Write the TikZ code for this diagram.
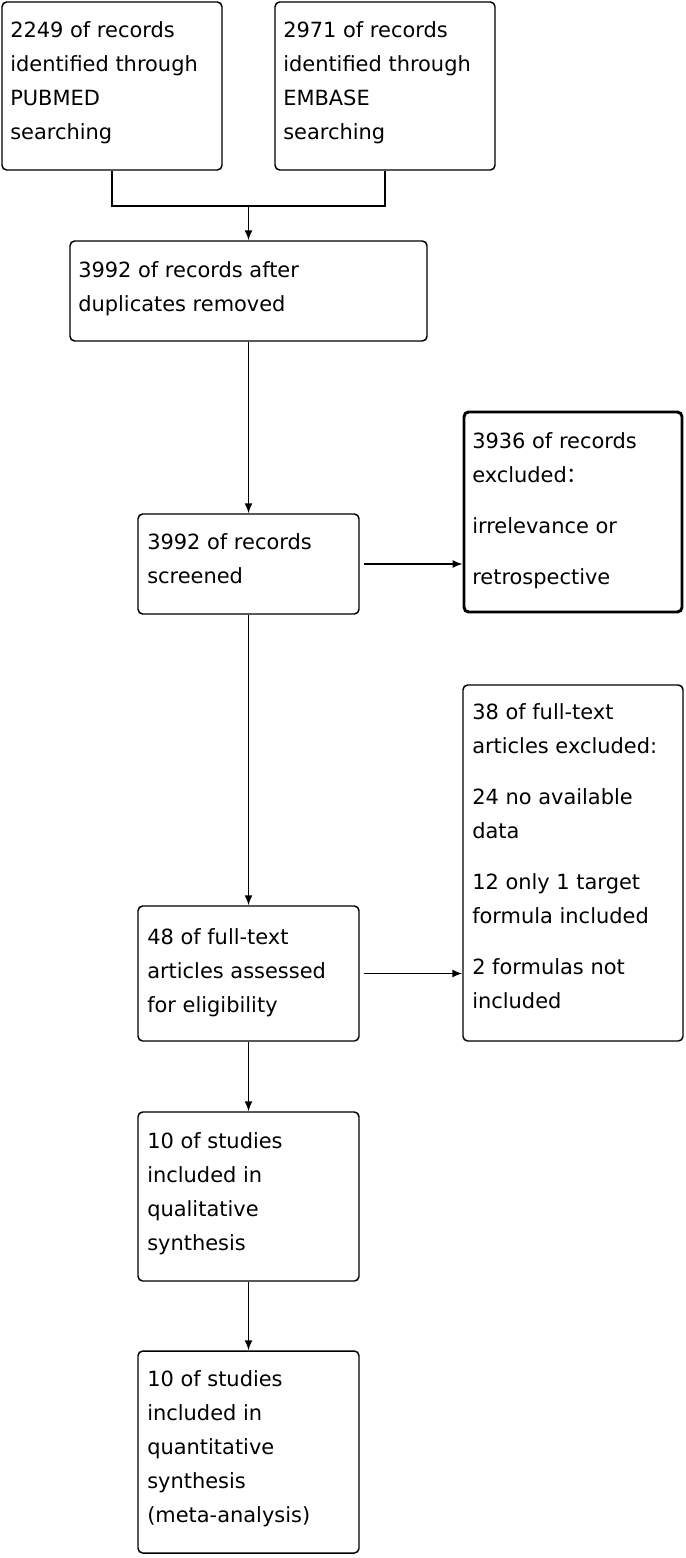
\documentclass[tikz,border=0pt]{standalone}
\usepackage{fontspec}
\setmainfont{DejaVu Sans}
\newfontfamily\cjk{Noto Sans CJK SC}
\usetikzlibrary{arrows.meta,fit}
\begin{document}
\begin{tikzpicture}[x=0.75pt,y=-0.75pt,
  box/.style={draw, line width=1.1pt, rounded corners=3.5pt, inner sep=0pt},
  thickbox/.style={box, line width=2.2pt},
  txt/.style={anchor=north west, inner sep=0pt, align=left, font=\fontsize{15.7pt}{25.5pt}\selectfont},
  conn/.style={line width=1.1pt},
  arr/.style={conn, -{Latex[length=7.5pt,width=6pt]}}]
\useasboundingbox (0,0) rectangle (685,1558);
% boxes
\node[box, fit={(2,2)(222,170)}] (pubmed) {};
\node[box, fit={(275,2)(495,170)}] (embase) {};
\node[box, fit={(70,241)(427,341)}] (dup) {};
\node[box, fit={(138,514)(359,614)}] (screen) {};
\node[thickbox, fit={(464,412)(682,612)}] (excl) {};
\node[box, fit={(463,685)(683,1041)}] (ftexcl) {};
\node[box, fit={(138,906)(359,1041)}] (ft) {};
\node[box, fit={(138,1112)(359,1281)}] (qual) {};
\node[box, fit={(138,1351)(359,1553)}] (quant) {};
% texts
\node[txt] (tpubmed) at (10,21) {2249 of records\\identified through\\PUBMED\\searching};
\node[txt] (tembase) at (283,21) {2971 of records\\identified through\\EMBASE\\searching};
\node[txt] (tdup) at (78,261) {3992 of records after\\duplicates removed};
\node[txt] (tscreen) at (147,533) {3992 of records\\screened};
\node[txt] (texcl) at (472,432) {3936 of records\\excluded{\cjk ：}\\[12.75pt]irrelevance or\\[12.75pt]retrospective};
\node[txt] (tftexcl) at (472,703) {38 of full-text\\articles excluded:\\[12.75pt]24 no available\\data\\[12.75pt]12 only 1 target\\formula included\\[12.75pt]2 formulas not\\included};
\node[txt] (tft) at (147,928) {48 of full-text\\articles assessed\\for eligibility};
\node[txt] (tqual) at (147,1132) {10 of studies\\included in\\qualitative\\synthesis};
\node[txt] (tquant) at (147,1370) {10 of studies\\included in\\quantitative\\synthesis\\(meta-analysis)};
% connectors
\coordinate (join) at (248.5,206);
\draw[conn] (pubmed.south) |- (join) -| (embase.south);
\draw[arr] (join) -- (dup.north);
\draw[arr] (dup.south) -- (screen.north);
\draw[arr] ([xshift=3pt]screen.east) -- (screen.east -| excl.west);
\draw[arr] (screen.south) -- (ft.north);
\draw[arr] ([xshift=3pt]ft.east) -- (ft.east -| ftexcl.west);
\draw[arr] (ft.south) -- (qual.north);
\draw[arr] (qual.south) -- (quant.north);
\end{tikzpicture}
\end{document}
